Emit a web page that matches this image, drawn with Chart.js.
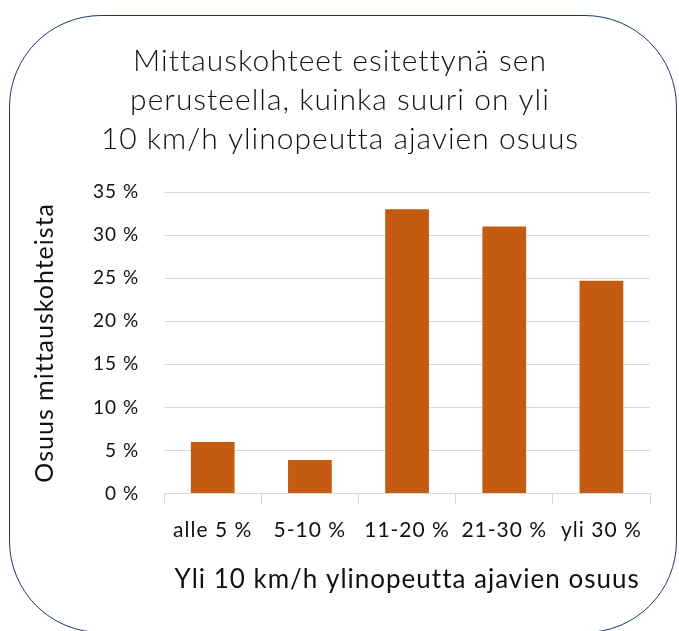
<!DOCTYPE html>
<html>
<head>
<meta charset="utf-8">
<script src="https://cdn.jsdelivr.net/npm/chart.js@4"></script>
<style>
  html, body { margin: 0; padding: 0; background: #fff; }
  #wrap { position: relative; width: 679px; height: 631px; overflow: hidden; }
  #frame {
    position: absolute; left: 9px; top: 15px; width: 668px; height: 618px;
    border: 1.5px solid #203864; border-radius: 92px; box-sizing: border-box;
    pointer-events: none;
  }
  canvas { position: absolute; left: 0; top: 0; }
</style>
</head>
<body>
<div id="wrap">
  <canvas id="chart" width="679" height="631"></canvas>
  <div id="frame"></div>
</div>
<script>
const categories = ["alle 5 %", "5-10 %", "11-20 %", "21-30 %", "yli 30 %"]
const shares = [6, 3.9, 33, 31, 24.7]
const titleLines = [
  "Mittauskohteet esitettynä sen",
  "perusteella, kuinka suuri on yli",
  "10 km/h ylinopeutta ajavien osuus"
]
const xTitle = "Yli 10 km/h ylinopeutta ajavien osuus"
const yTitle = "Osuus mittauskohteista"

const font = "Lato, 'Open Sans', sans-serif"

// the source text is set a little looser than Lato
const spacing = {
  id: "spacing",
  afterInit(chart) { chart.ctx.letterSpacing = "1px" }
}

new Chart(document.getElementById("chart"), {
  type: "bar",
  data: {
    labels: categories,
    datasets: [{
      data: shares,
      backgroundColor: "#C55A11",
      borderWidth: 0,
      barPercentage: 0.45,
      categoryPercentage: 1
    }]
  },
  options: {
    responsive: false,
    animation: false,
    layout: { padding: { left: 30, right: 29, top: 42, bottom: 36 } },
    plugins: {
      legend: { display: false },
      tooltip: { enabled: false },
      title: {
        display: true,
        text: titleLines,
        color: "#111",
        font: { family: font, size: 30, weight: "300", lineHeight: 1.3 },
        padding: { top: 0, bottom: 33 }
      }
    },
    scales: {
      x: {
        grid: {
          offset: true,
          drawOnChartArea: false,
          drawTicks: true,
          tickLength: 10,
          color: "#d9d9d9"
        },
        border: { display: true, color: "#d9d9d9" },
        ticks: {
          color: "#111",
          font: { family: font, size: 21 },
          padding: 14,
          maxRotation: 0
        },
        title: {
          display: true,
          text: xTitle,
          color: "#111",
          font: { family: font, size: 26 },
          padding: { top: 7, bottom: 0 }
        }
      },
      y: {
        min: 0,
        max: 35,
        ticks: {
          stepSize: 5,
          color: "#111",
          font: { family: font, size: 19 },
          padding: 25,
          callback: v => v + " %"
        },
        grid: { color: "#d9d9d9", drawTicks: false },
        border: { display: false },
        title: {
          display: true,
          text: yTitle,
          color: "#111",
          font: { family: font, size: 25 },
          padding: { top: 0, bottom: 8 }
        }
      }
    }
  },
  plugins: [spacing]
})
</script>
</body>
</html>
